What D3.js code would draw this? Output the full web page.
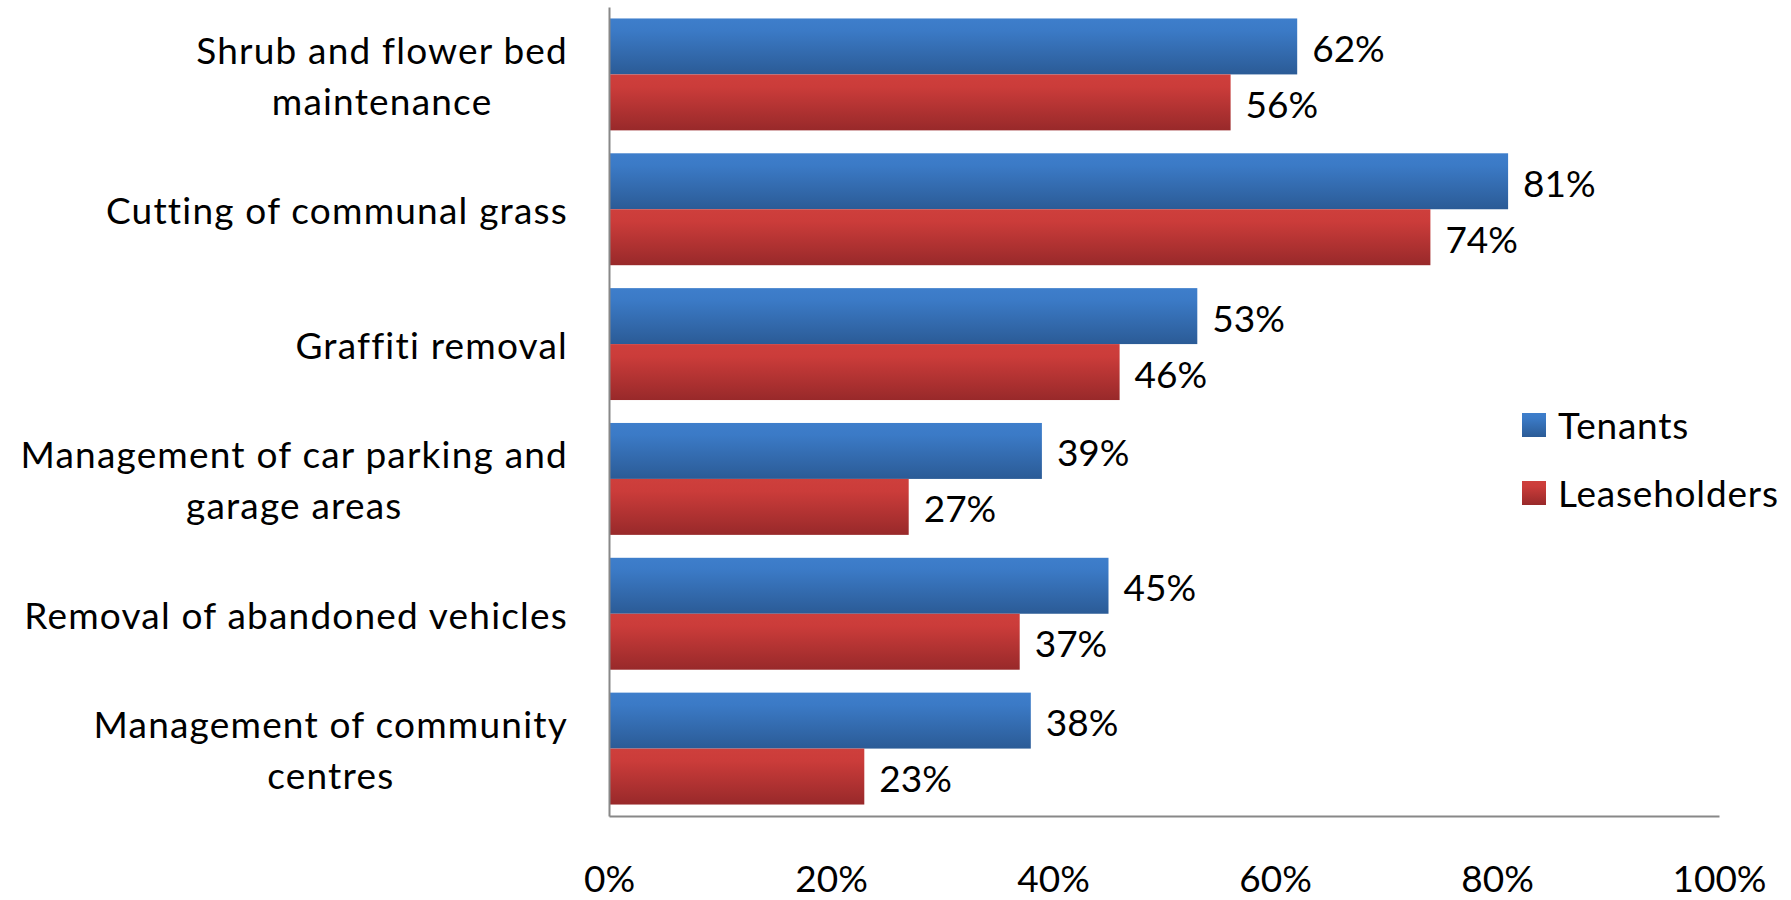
<!DOCTYPE html>
<html>
<head>
<meta charset="utf-8">
<script src="https://cdn.jsdelivr.net/npm/d3@7/dist/d3.min.js"></script>
<style>
  html, body { margin: 0; padding: 0; background: #ffffff; }
  svg { display: block; }
  text { font-family: Lato, "Open Sans", sans-serif; fill: #000; }
</style>
</head>
<body>
<svg id="chart" width="1791" height="900"></svg>
<script>
// Services residents rated as good, by tenure
const categories = [
  "Shrub and flower bed\nmaintenance",
  "Cutting of communal grass",
  "Graffiti removal",
  "Management of car parking and\ngarage areas",
  "Removal of abandoned vehicles",
  "Management of community\ncentres"
];
const seriesNames = ["Tenants", "Leaseholders"];
const tenants      = [0.62, 0.81, 0.53, 0.39, 0.45, 0.38];
const leaseholders = [0.56, 0.74, 0.46, 0.27, 0.37, 0.23];
const xTicks = [0, 0.2, 0.4, 0.6, 0.8, 1.0];

const seriesValues = [tenants, leaseholders];
const gradients = [
  { id: "gradBlue", stops: ["#3e7ecb", "#3b7ac6", "#2b5b96"] },
  { id: "gradRed",  stops: ["#ce3f3c", "#cb3c3a", "#98292a"] }
];

const FONT = 37;
const svg = d3.select("#chart");

const defs = svg.append("defs");
gradients.forEach(g => {
  const lg = defs.append("linearGradient")
    .attr("id", g.id).attr("x1", 0).attr("y1", 0).attr("x2", 0).attr("y2", 1);
  lg.append("stop").attr("offset", "0%").attr("stop-color", g.stops[0]);
  lg.append("stop").attr("offset", "22%").attr("stop-color", g.stops[1]);
  lg.append("stop").attr("offset", "100%").attr("stop-color", g.stops[2]);
});

const x = d3.scaleLinear().domain([0, 1]).range([609, 1719]);
const y = d3.scaleBand().domain(categories).range([7, 816])
  .paddingInner(0.17).paddingOuter(0.085);
const ySub = d3.scaleBand().domain(seriesNames).range([0, y.bandwidth()]);

const rows = categories.map((c, i) => ({ cat: c, vals: seriesValues.map(s => s[i]) }));

// bars
const groups = svg.append("g").selectAll("g.grp").data(rows).join("g")
  .attr("class", "grp")
  .attr("transform", d => `translate(0,${y(d.cat)})`);

groups.selectAll("rect").data(d => d.vals.map((v, k) => ({ v, k })))
  .join("rect")
  .attr("x", x(0))
  .attr("y", d => ySub(seriesNames[d.k]))
  .attr("width", d => x(d.v) - x(0))
  .attr("height", ySub.bandwidth())
  .attr("fill", d => `url(#${gradients[d.k].id})`);

// value labels
const pct = d3.format(".0%");
groups.selectAll("text.val").data(d => d.vals.map((v, k) => ({ v, k })))
  .join("text")
  .attr("class", "val")
  .attr("x", d => x(d.v) + 15)
  .attr("y", d => ySub(seriesNames[d.k]) + ySub.bandwidth() / 2 + 1)
  .attr("dominant-baseline", "central")
  .style("font-size", FONT + "px")
  .text(d => pct(d.v));

// category axis: wrapped labels, lines centred on each other, block right-aligned
const LABEL_PAD = 41;
const yAxis = svg.append("g")
  .attr("transform", `translate(${x(0)},0)`)
  .call(d3.axisLeft(y).tickSize(0).tickSizeOuter(0).tickPadding(LABEL_PAD));
yAxis.select(".domain").attr("stroke", "#888888").attr("stroke-width", 2);
yAxis.selectAll(".tick text").each(function (d) {
  const t = d3.select(this);
  const lines = d.split("\n");
  const lh = 51;
  t.text(null).attr("dy", null).attr("dominant-baseline", "central")
    .style("font-size", FONT + "px").style("letter-spacing", "1.2px")
    .attr("font-family", null);
  const spans = lines.map((ln, i) =>
    t.append("tspan")
      .attr("y", (i - (lines.length - 1) / 2) * lh)
      .text(ln));
  const maxW = d3.max(spans, s => s.node().getComputedTextLength());
  t.attr("text-anchor", "middle");
  spans.forEach(s => s.attr("x", -LABEL_PAD - maxW / 2));
});

// value axis
const xAxis = svg.append("g")
  .attr("transform", "translate(0,816)")
  .call(d3.axisBottom(x).tickValues(xTicks).tickFormat(d3.format(".0%"))
    .tickSize(0).tickSizeOuter(0).tickPadding(50));
xAxis.select(".domain").attr("stroke", "#888888").attr("stroke-width", 2);
xAxis.selectAll(".tick text").style("font-size", FONT + "px").attr("font-family", null);

// legend
const legend = svg.append("g").attr("transform", "translate(1522,413)");
seriesNames.forEach((name, k) => {
  const g = legend.append("g").attr("transform", `translate(0,${k * 68})`);
  g.append("rect").attr("width", 24).attr("height", 24)
    .attr("fill", `url(#${gradients[k].id})`);
  g.append("text").attr("x", 36).attr("y", 11)
    .attr("dominant-baseline", "central")
    .style("font-size", FONT + "px")
    .style("letter-spacing", "0.8px")
    .text(name);
});
</script>
</body>
</html>
